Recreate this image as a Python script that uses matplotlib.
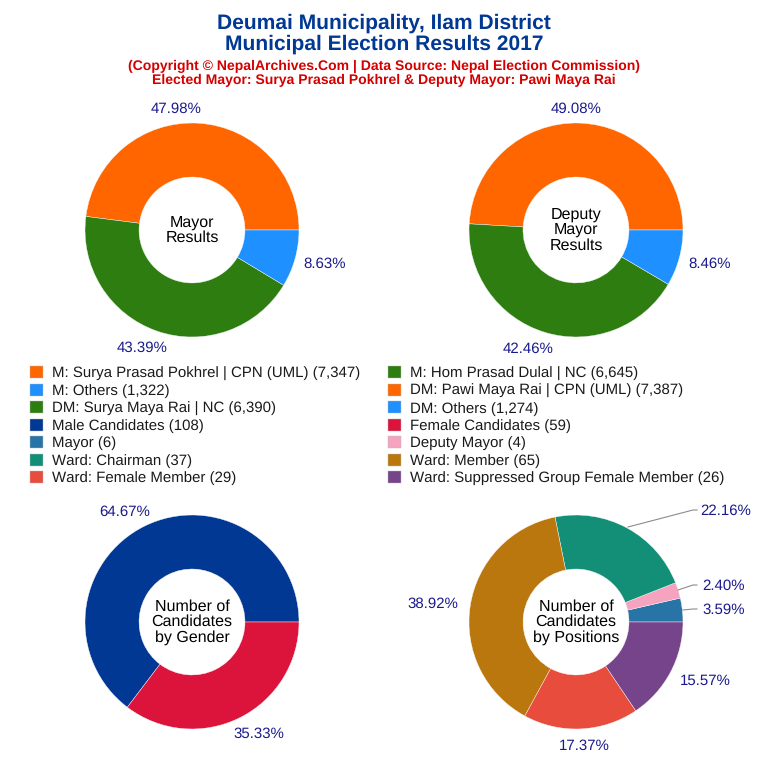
import matplotlib
matplotlib.use('Agg')
import matplotlib.pyplot as plt
import numpy as np
from matplotlib.patches import Patch

plt.rcParams['font.family'] = ['Liberation Sans', 'DejaVu Sans']
plt.rcParams['text.hinting'] = 'none'
plt.rcParams['text.hinting_factor'] = 1

W = H = 768
NAVY = '#003893'
RED = '#D40000'
LABEL = '#1A1A8C'

# votes and candidate counts
mayor_names = ['M: Surya Prasad Pokhrel | CPN (UML)', 'M: Hom Prasad Dulal | NC', 'M: Others']
mayor_votes = [7347, 6645, 1322]
deputy_names = ['DM: Pawi Maya Rai | CPN (UML)', 'DM: Surya Maya Rai | NC', 'DM: Others']
deputy_votes = [7387, 6390, 1274]
gender_names = ['Male Candidates', 'Female Candidates']
gender_counts = [108, 59]
position_names = ['Mayor', 'Deputy Mayor', 'Ward: Chairman', 'Ward: Member',
                  'Ward: Female Member', 'Ward: Suppressed Group Female Member']
position_counts = [6, 4, 37, 65, 29, 26]

vote_colors = ['#FF6600', '#2E7D10', '#1E90FF']
gender_colors = ['#003893', '#DC143C']
position_colors = ['#2874A6', '#F5A3BF', '#148F77', '#B9770E', '#E74C3C', '#76448A']

fig = plt.figure(figsize=(W / 100, H / 100), dpi=100)


def px(x, y):
    return x / W, 1 - y / H


def donut(cx, cy, values, colors, center_text, label_pos):
    r = 107
    ax = fig.add_axes([(cx - r) / W, 1 - (cy + r) / H, 2 * r / W, 2 * r / H])
    wedges, _ = ax.pie(values, colors=colors, startangle=0, counterclock=True, radius=1,
                       wedgeprops=dict(width=0.505, edgecolor='#f8f8f8', linewidth=0.3, clip_on=False))
    ax.set_xlim(-1, 1)
    ax.set_ylim(-1, 1)
    ax.text(0, 0, center_text, ha='center', va='center', fontsize=11.8, linespacing=1.07, color='black')
    total = sum(values)
    for v, (x, y) in zip(values, label_pos):
        fig.text(*px(x, y), '%.2f%%' % (100 * v / total), ha='center', va='center',
                 fontsize=11, color=LABEL)
    return ax


donut(192, 230, mayor_votes, vote_colors, 'Mayor\nResults',
      [(176, 109), (142, 348), (325, 264)])
donut(576, 230, deputy_votes, vote_colors, 'Deputy\nMayor\nResults',
      [(576, 109), (528, 349), (710, 264)])
donut(192, 622, gender_counts, gender_colors, 'Number of\nCandidates\nby Gender',
      [(125, 512), (259, 734)])
ax = donut(576, 622, position_counts, position_colors, 'Number of\nCandidates\nby Positions',
           [(724, 610), (724, 586), (726, 511), (433, 604), (584, 746), (705, 681)])

# leader lines for the three small slices on the right
for xs, ys in [((628, 693, 697), (527, 510, 510)),
               ((678, 693, 697), (590, 585, 585)),
               ((683, 693, 697), (610, 609, 609))]:
    fig.add_artist(plt.Line2D([x / W for x in xs], [1 - y / H for y in ys], color='#8c8c8c', lw=0.8))

fig.text(*px(384, 23), 'Deumai Municipality, Ilam District', ha='center', va='center',
         fontsize=15.4, fontweight='bold', color=NAVY)
fig.text(*px(384, 44), 'Municipal Election Results 2017', ha='center', va='center',
         fontsize=15.4, fontweight='bold', color=NAVY)
fig.text(*px(384, 66), '(Copyright © NepalArchives.Com | Data Source: Nepal Election Commission)',
         ha='center', va='center', fontsize=10.3, fontweight='bold', color=RED)
fig.text(*px(384, 80), 'Elected Mayor: Surya Prasad Pokhrel & Deputy Mayor: Pawi Maya Rai',
         ha='center', va='center', fontsize=10.3, fontweight='bold', color=RED)

# legend rows read left to right, matplotlib fills columns first
rows = [
    (mayor_names[0], mayor_votes[0], vote_colors[0]), (mayor_names[1], mayor_votes[1], vote_colors[1]),
    (mayor_names[2], mayor_votes[2], vote_colors[2]), (deputy_names[0], deputy_votes[0], vote_colors[0]),
    (deputy_names[1], deputy_votes[1], vote_colors[1]), (deputy_names[2], deputy_votes[2], vote_colors[2]),
    (gender_names[0], gender_counts[0], gender_colors[0]), (gender_names[1], gender_counts[1], gender_colors[1]),
    (position_names[0], position_counts[0], position_colors[0]), (position_names[1], position_counts[1], position_colors[1]),
    (position_names[2], position_counts[2], position_colors[2]), (position_names[3], position_counts[3], position_colors[3]),
    (position_names[4], position_counts[4], position_colors[4]), (position_names[5], position_counts[5], position_colors[5]),
]
ordered = rows[0::2] + rows[1::2]
handles = [Patch(facecolor=c, edgecolor='#bbbbbb', linewidth=0.3, label='%s (%s)' % (n, format(v, ',')))
           for n, v, c in ordered]
fig.legend(handles=handles, ncol=2, loc='upper left', bbox_to_anchor=px(30, 366), frameon=False,
           fontsize=10.95, borderpad=0, borderaxespad=0, handlelength=0.85, handleheight=0.85,
           handletextpad=0.6, columnspacing=1.85, labelspacing=0.2, labelcolor='#1a1a1a')

fig.savefig('out.png', dpi=100)
